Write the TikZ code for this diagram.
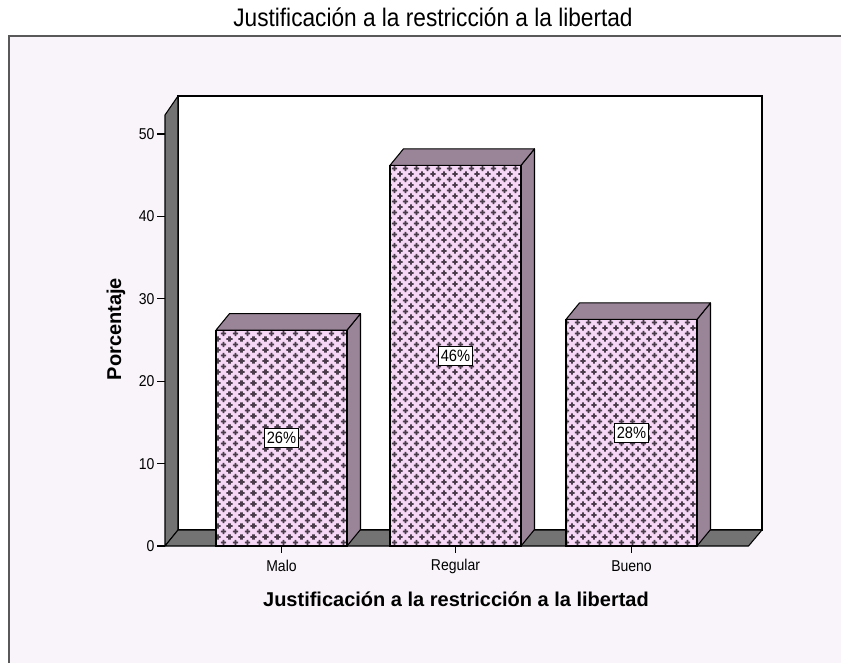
\documentclass[tikz,border=0pt]{standalone}
\usepackage{fontspec}
\setmainfont{Liberation Sans}
\usetikzlibrary{patterns}

\definecolor{chartbg}{HTML}{F8F4FA}
\definecolor{wallgray}{HTML}{737373}
\definecolor{barpink}{HTML}{F6D8F6}
\definecolor{barmauve}{HTML}{9A8497}
\definecolor{crossdark}{HTML}{4A3C4A}

% plus signs on a staggered grid, wrapped round the tile corners
\pgfdeclarepatternformonly{pluscross}{\pgfqpoint{0pt}{0pt}}{\pgfqpoint{8.6pt}{8.6pt}}{\pgfqpoint{8.6pt}{8.6pt}}{
  \pgfsetlinewidth{1.5pt}
  \foreach \cx/\cy in {4.3/4.3, 0/0, 8.6/0, 0/8.6, 8.6/8.6}{
    \pgfpathmoveto{\pgfpoint{\cx pt-2.1pt}{\cy pt}}\pgfpathlineto{\pgfpoint{\cx pt+2.1pt}{\cy pt}}
    \pgfpathmoveto{\pgfpoint{\cx pt}{\cy pt-2.1pt}}\pgfpathlineto{\pgfpoint{\cx pt}{\cy pt+2.1pt}}
  }
  \pgfusepath{stroke}
}

\newcommand{\tallish}[1]{\scalebox{1}[1.12]{#1}}

\tikzset{
  wallface/.style={draw=black, fill=wallgray, line width=0.8pt, line join=round},
  barfront/.style={draw=black, line width=0.8pt, preaction={fill=barpink}, pattern=pluscross, pattern color=crossdark},
  barside/.style={draw=black, fill=barmauve, line width=0.8pt, line join=round},
  pctlabel/.style={draw=black, fill=white, line width=0.6pt, inner xsep=2pt, inner ysep=2.6pt, font=\fontsize{11}{12}\selectfont},
  ticklabel/.style={font=\fontsize{10.5}{12}\selectfont},
  axistitle/.style={font=\bfseries\fontsize{15}{17}\selectfont},
}

\begin{document}
\begin{tikzpicture}[x=0.75pt, y=-0.75pt]
\useasboundingbox (0,0) rectangle (841,662);
\fill[white] (0,0) rectangle (841,662);

% chart frame
\draw[fill=chartbg, draw=gray!70!black, line width=1.2pt] (9,36) rectangle (860,680);
\node[font=\fontsize{17}{19}\selectfont] (title) at (433,17) {\tallish{Justificación a la restricción a la libertad}};

% walls and floor
\draw[fill=white, draw=black, line width=0.8pt] (178,96) rectangle (762,530);
\draw[wallface] (165,115) -- (178,96) -- (178,530) -- (165,546) -- cycle;
\draw[wallface] (165,546) -- (178,530) -- (762,530) -- (748.5,546) -- cycle;

% y axis
\foreach \v in {0,10,...,50}{
  \draw[line width=0.8pt] (157,{546-\v*8.24}) -- (165,{546-\v*8.24});
  \node[ticklabel, anchor=east, inner sep=1pt] (y\v) at (156,{546-\v*8.24}) {\tallish{\v}};
}
\node[axistitle, rotate=90] (ytitle) at (116,329) {Porcentaje};

% bars
\foreach \x/\h/\name/\pct in {216/26.2/Malo/26, 390/46.2/Regular/46, 566/27.5/Bueno/28}{
  \draw[barside] ({\x+131},546) -- ++(13.5,-16.5) -- ({\x+144.5},{546-\h*8.24-16.5}) -- ({\x+131},{546-\h*8.24}) -- cycle;
  \draw[barside] (\x,{546-\h*8.24}) -- ++(13.5,-16.5) -- ++(131,0) -- ++(-13.5,16.5) -- cycle;
  \draw[barfront] (\x,546) rectangle ({\x+131},{546-\h*8.24});
  \node[pctlabel] (p\name) at ({\x+65.5},{546-\h*4.12}) {\tallish{\pct\%}};
  \draw[line width=0.8pt] ({\x+65.5},546) -- ++(0,7);
  \node[ticklabel] (t\name) at ({\x+65.5},566) {\tallish{\name}};
}
\node[axistitle] (xtitle) at (456,599) {Justificación a la restricción a la libertad};
\end{tikzpicture}
\end{document}
